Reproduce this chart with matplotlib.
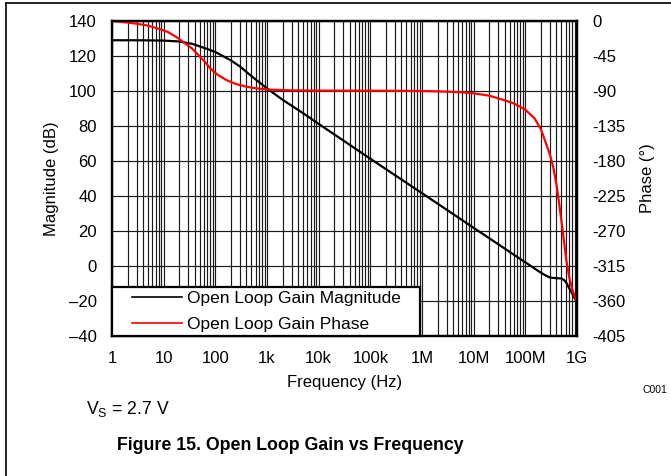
import matplotlib
matplotlib.use("Agg")
import matplotlib.pyplot as plt
from matplotlib.lines import Line2D
from matplotlib.legend_handler import HandlerLine2D
from matplotlib.ticker import FixedLocator, LogLocator, NullFormatter

plt.rcParams["font.family"] = ["Liberation Sans", "DejaVu Sans"]
plt.rcParams["mathtext.fontset"] = "custom"
plt.rcParams["mathtext.rm"] = "Liberation Sans"
plt.rcParams["axes.unicode_minus"] = False

# 幅频数据 (Hz, dB)
freq_mag = [1, 3, 10, 20, 35, 50, 70, 100, 200, 300, 500, 1e3, 2e3, 5e3, 1e4,
            1e5, 1e6, 1e7, 3e7, 1e8, 1.9e8, 2.5e8, 3e8, 4e8, 5e8, 5.6e8, 6.2e8,
            7e8, 8e8, 9e8, 1e9]
mag_db = [129, 129, 128.8, 128.3, 127, 125.5, 124, 122.3, 117.5, 114, 108.5,
          101.5, 95, 87.3, 81.2, 61.3, 41.6, 21.8, 12.4, 2.1, -3.4, -5.5, -6.6,
          -7, -7.1, -8, -9.5, -12.5, -15.5, -18.3, -20.5]

# 相频数据 (Hz, °)
freq_phase = [1, 2, 3, 5, 8, 12, 18, 25, 35, 45, 60, 80, 110, 165, 250, 400,
              700, 1.2e3, 3e3, 1e4, 1e5, 1e6, 3e6, 6e6, 1e7, 2e7, 4e7, 6e7,
              1e8, 1.5e8, 2e8, 2.5e8, 3e8, 3.5e8, 4e8, 4.5e8, 5e8, 5.5e8,
              6.2e8, 7e8, 8e8, 9e8, 1e9]
phase_deg = [0, -2, -3.5, -6, -10, -14, -21, -28, -35, -42.5, -51, -61, -69,
             -76, -81, -84.5, -87, -88.3, -89.2, -89.5, -89.6, -90, -90.8,
             -91.7, -93, -96, -102, -106, -114, -125, -139, -157, -172, -189,
             -210, -234, -257, -279, -307, -328, -344, -354, -360]

x_ticks = [1, 10, 100, 1e3, 1e4, 1e5, 1e6, 1e7, 1e8, 1e9]
x_labels = ["1", "10", "100", "1k", "10k", "100k", "1M", "10M", "100M", "1G"]
mag_ticks = list(range(-40, 141, 20))
mag_labels = [str(t).replace("-", "\u2013") for t in mag_ticks]
phase_ticks = list(range(-405, 1, 45))


# 图例里的线段：左侧留白，线段缩短
class PadLine(HandlerLine2D):
    def __init__(self, pad, **kw):
        super().__init__(**kw)
        self.pad = pad

    def create_artists(self, legend, orig_handle, xdescent, ydescent, width,
                       height, fontsize, trans):
        return super().create_artists(legend, orig_handle, xdescent - self.pad,
                                      ydescent, width - self.pad, height,
                                      fontsize, trans)


fig = plt.figure(figsize=(6.71, 4.76), dpi=100)
ax = fig.add_axes([112 / 671, 1 - 336 / 476, 465 / 671, 315 / 476])
ax2 = ax.twinx()

ax.plot(freq_mag, mag_db, color="black", lw=1.6, label="Open Loop Gain Magnitude")
ax2.plot(freq_phase, phase_deg, color="#ff0000", lw=1.6, label="Open Loop Gain Phase")

ax.set_xscale("log")
ax.set_xlim(1, 1e9)
ax.set_ylim(-40, 140)
ax2.set_ylim(-405, 0)

ax.xaxis.set_major_locator(FixedLocator(x_ticks))
ax.set_xticklabels(x_labels)
ax.xaxis.set_minor_locator(LogLocator(base=10, subs=range(2, 10), numticks=20))
ax.xaxis.set_minor_formatter(NullFormatter())
ax.set_yticks(mag_ticks)
ax.set_yticklabels(mag_labels)
ax2.set_yticks(phase_ticks)

ax.grid(True, which="both", axis="x", color="#1a1a1a", lw=0.85)
ax.grid(True, which="major", axis="y", color="#1a1a1a", lw=0.85)
ax.tick_params(which="both", length=0, labelsize=12, pad=11)
ax.tick_params(axis="x", pad=11)
ax2.tick_params(which="both", length=0, labelsize=12, pad=11)

for a in (ax, ax2):
    for s in a.spines.values():
        s.set_linewidth(1.6)
        s.set_color("black")

ax.set_xlabel("Frequency (Hz)", fontsize=12, labelpad=6)
ax.set_ylabel("Magnitude (dB)", fontsize=12, labelpad=7)
ax2.set_ylabel("Phase (\u00b0)", fontsize=12, labelpad=10)

h1, l1 = ax.get_legend_handles_labels()
h2, l2 = ax2.get_legend_handles_labels()
leg = ax2.legend(h1 + h2, l1 + l2, loc="lower left",
                 bbox_to_anchor=(0, 0, 308 / 465, 0.2), mode="expand",
                 borderaxespad=0, fancybox=False, fontsize=12.5,
                 handlelength=3.77, handletextpad=0.3, labelspacing=0.6,
                 borderpad=0.25, framealpha=1,
                 handler_map={Line2D: PadLine(11.2)})
leg.get_frame().set_edgecolor("black")
leg.get_frame().set_linewidth(1.6)
for ln in leg.get_lines():
    ln.set_linewidth(1.2)

fig.text(655 / 671, 1 - 390 / 476, "C001", fontsize=7.5, ha="center", va="center")
fig.text(86 / 671, 1 - 409 / 476, r"$\mathregular{V_S}$ = 2.7 V", fontsize=12.7,
         ha="left", va="center")
fig.text(290 / 671, 1 - 446 / 476, "Figure 15. Open Loop Gain vs Frequency",
         fontsize=12.8, fontweight="bold", ha="center", va="center")

# 外框线
fig.add_artist(Line2D([6 / 671, 6 / 671], [0, 1 - 3 / 476], color="black", lw=1.2))
fig.add_artist(Line2D([6 / 671, 1], [1 - 3 / 476, 1 - 3 / 476], color="black", lw=1.2))

fig.savefig("out.png", dpi=100)
